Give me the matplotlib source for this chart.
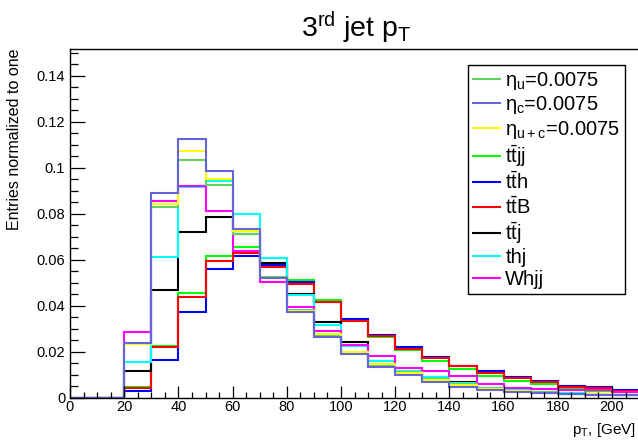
import numpy as np
import matplotlib
matplotlib.use("Agg")
import matplotlib.pyplot as plt
from matplotlib.ticker import MultipleLocator, FuncFormatter

plt.rcParams['font.family'] = ['Liberation Sans', 'DejaVu Sans']
plt.rcParams['mathtext.fontset'] = 'custom'
plt.rcParams['mathtext.rm'] = 'Liberation Sans'
plt.rcParams['mathtext.default'] = 'regular'

## DATA : 10 GeV bins from 0 to 220
edges = np.arange(0, 230, 10)

eta_u = [0, 0, 0.0236, 0.0827, 0.1035, 0.0926, 0.0712, 0.0523, 0.0380, 0.0272, 0.0200,
         0.0143, 0.0110, 0.0080, 0.0058, 0.0040, 0.0030, 0.0024, 0.0018, 0.0015, 0.0012, 0.0010]
eta_c = [0, 0, 0.0236, 0.0888, 0.1124, 0.0984, 0.0733, 0.0520, 0.0374, 0.0262, 0.0190,
         0.0135, 0.0100, 0.0067, 0.0048, 0.0033, 0.0025, 0.0020, 0.0014, 0.0012, 0.0010, 0.0008]
eta_uc = [0, 0, 0.0233, 0.0840, 0.1074, 0.0950, 0.0723, 0.0522, 0.0378, 0.0277, 0.0198,
          0.0146, 0.0108, 0.0077, 0.0055, 0.0038, 0.0028, 0.0022, 0.0016, 0.0014, 0.0011, 0.0009]
ttjj = [0, 0, 0.0045, 0.0226, 0.0454, 0.0617, 0.0654, 0.0607, 0.0513, 0.0425, 0.0333,
        0.0263, 0.0208, 0.0161, 0.0125, 0.0096, 0.0074, 0.0060, 0.0036, 0.0031, 0.0025, 0.0020]
tth = [0, 0, 0.0027, 0.0163, 0.0371, 0.0561, 0.0617, 0.0578, 0.0504, 0.0415, 0.0342,
       0.0274, 0.0219, 0.0175, 0.0139, 0.0114, 0.0088, 0.0071, 0.0051, 0.0045, 0.0033, 0.0028]
ttB = [0, 0, 0.0042, 0.0219, 0.0439, 0.0593, 0.0628, 0.0570, 0.0494, 0.0415, 0.0335,
       0.0268, 0.0212, 0.0172, 0.0136, 0.0106, 0.0085, 0.0068, 0.0048, 0.0043, 0.0031, 0.0026]
ttj = [0, 0, 0.0114, 0.0470, 0.0720, 0.0787, 0.0710, 0.0584, 0.0451, 0.0328, 0.0243,
       0.0160, 0.0118, 0.0091, 0.0067, 0.0042, 0.0032, 0.0025, 0.0018, 0.0015, 0.0011, 0.0009]
thj = [0, 0, 0.0154, 0.0613, 0.0914, 0.0941, 0.0798, 0.0607, 0.0447, 0.0317, 0.0223,
       0.0161, 0.0115, 0.0089, 0.0065, 0.0043, 0.0033, 0.0026, 0.0019, 0.0016, 0.0012, 0.0010]
whjj = [0, 0, 0.0287, 0.0853, 0.0922, 0.0813, 0.0639, 0.0502, 0.0393, 0.0288, 0.0230,
        0.0183, 0.0131, 0.0114, 0.0096, 0.0060, 0.0042, 0.0038, 0.0034, 0.0035, 0.0025, 0.0022]

labels = [r'η$_{u}$=0.0075', r'η$_{c}$=0.0075', r'η$_{u+c}$=0.0075',
          r'$t\bar{t}jj$', r'$t\bar{t}h$', r'$t\bar{t}B$', r'$t\bar{t}j$', 'thj', 'Whjj']
colors = ['#5fd35f', '#6464dc', '#ffff00', '#00ff00', '#0000ff', '#ff0000', 'black', '#00ffff', '#ff00ff']

## PLOT
fig = plt.figure(figsize=(6.38, 4.45), dpi=100)
W, H = 638.0, 445.0
x0, y0, ytop = 70, 397.7, 49
ax = fig.add_axes([x0 / W, (H - y0) / H, 250 * 2.71 / W, (y0 - ytop) / H])

# backgrounds first, signals on top
ax.stairs(ttjj, edges, color=colors[3], lw=1.5, baseline=None)
ax.stairs(tth, edges, color=colors[4], lw=1.5, baseline=None)
ax.stairs(ttB, edges, color=colors[5], lw=1.5, baseline=None)
ax.stairs(ttj, edges, color=colors[6], lw=1.5, baseline=None)
ax.stairs(thj, edges, color=colors[7], lw=1.5, baseline=None)
ax.stairs(whjj, edges, color=colors[8], lw=1.5, baseline=None)
ax.stairs(eta_u, edges, color=colors[0], lw=1.5, baseline=None)
ax.stairs(eta_uc, edges, color=colors[2], lw=1.5, baseline=None)
ax.stairs(eta_c, edges, color=colors[1], lw=1.5, baseline=None)

ax.set_xlim(0, 250)
ax.set_ylim(0, 0.1516)

ax.xaxis.set_major_locator(MultipleLocator(20))
ax.xaxis.set_minor_locator(MultipleLocator(5))
ax.xaxis.set_major_formatter(FuncFormatter(lambda v, p: '%d' % v if v <= 200 else ''))
ax.yaxis.set_major_locator(MultipleLocator(0.02))
ax.yaxis.set_minor_locator(MultipleLocator(0.005))
ax.yaxis.set_major_formatter(FuncFormatter(lambda v, p: '%g' % round(v, 4)))
ax.tick_params(which='both', direction='in', top=False, right=False, labelsize=10.5, width=0.9)
ax.tick_params(axis='x', which='major', length=8.5, pad=2)
ax.tick_params(axis='x', which='minor', length=4.3)
ax.tick_params(axis='y', which='major', length=11)
ax.tick_params(axis='y', which='minor', length=5.8)
for s in ax.spines.values():
    s.set_linewidth(1.0)

# legend built from the line handles
handles = [plt.Line2D([], [], color=c, lw=1.5) for c in colors]
leg = fig.legend(handles, labels, loc='upper left', bbox_to_anchor=(468 / W, (H - 65) / H),
                 borderaxespad=0, fontsize=14.5, frameon=True, fancybox=False, framealpha=1,
                 edgecolor='black', handlelength=1.35, handletextpad=0.25, labelspacing=0.12,
                 borderpad=0.25)
leg.get_frame().set_linewidth(1.0)

fig.text(356 / W, 1 - 28 / H, r'3$^{rd}$ jet p$_{T}$', fontsize=20.5, ha='center', va='center')
fig.text(15 / W, 1 - 48 / H, 'Entries normalized to one', rotation=90, fontsize=11.5,
         ha='center', va='top')
fig.text(636 / W, 1 - 430 / H, r'p$_{T}$, [GeV]', fontsize=11, ha='right', va='center')

fig.savefig('out.png', dpi=100)
